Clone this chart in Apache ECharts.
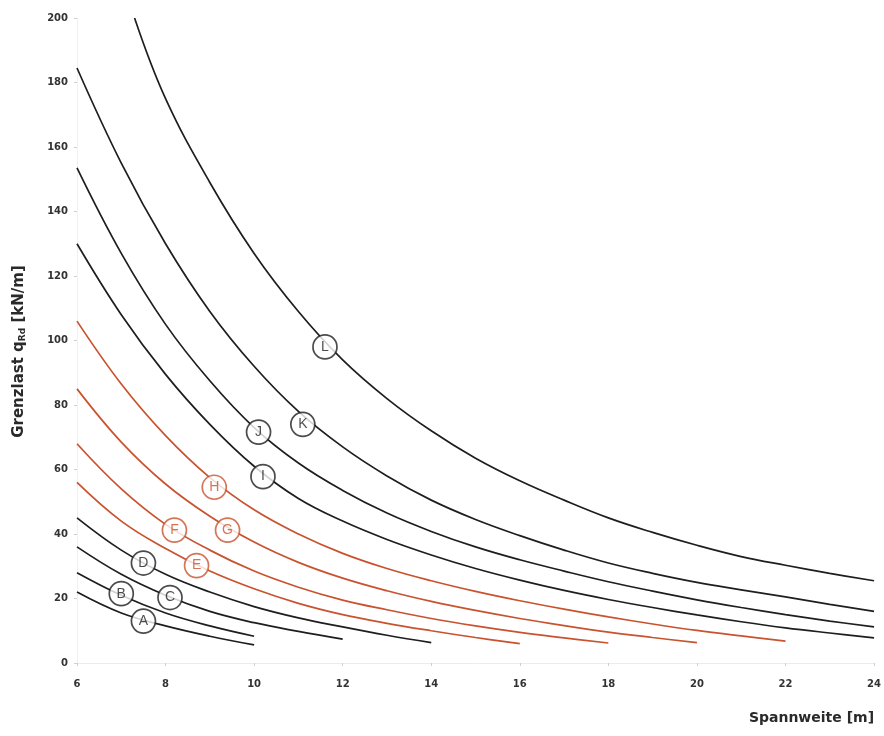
<!DOCTYPE html>
<html>
<head>
<meta charset="utf-8">
<script src="https://cdn.jsdelivr.net/npm/echarts@6/dist/echarts.min.js"></script>
<style>html,body{margin:0;padding:0;background:#fff}#c{width:884px;height:736px}</style>
</head>
<body>
<div id="c"></div>
<script>
// Spannweite [m] (x) for curves starting at 6 m
const spans = [6,7,8,9,10,11,12,13,14,15,16,17,18,19,20,21,22,23,24];
const spansL = [7.3,8,9,10,11,12,13,14,15,16,17,18,19,20,21,22,23,24];
// Grenzlast q_Rd [kN/m]
const curveA = [22,15.5,11.5,8.3,5.6];
const curveB = [28,21,15.5,11.5,8.3];
const curveC = [36,27.5,21,16,12.5,9.8,7.4];
const curveD = [45,35,27.5,22,17.5,14,11.2,8.6,6.3];
const curveE = [56,44,35.5,28.5,23,18.5,15,12.3,10,7.9,6];
const curveF = [68,54,43,35,28.5,23.5,19.5,16.5,13.8,11.5,9.5,7.8,6.2];
const curveG = [85,68.5,55.5,45.5,37.5,31.2,26.3,22.4,19.1,16.3,13.8,11.6,9.6,7.9,6.3];
const curveH = [106,86.5,70.5,57.5,47.5,40,34,29.3,25.5,22.2,19.3,16.7,14.3,12.1,10.1,8.4,6.8];
const curveI = [130,108,89.5,74,61,51,44,38.3,33.5,29.3,25.7,22.5,19.7,17.2,14.9,12.8,10.9,9.3,7.8];
const curveJ = [153.5,127,105,87.5,73,62,53.5,46.5,40.8,36,32,28.5,25.2,22.3,19.6,17.2,15,13,11.2];
const curveK = [184.5,155,130,109,92,78,67,58,50.5,44.5,39.5,35,31,27.8,25,22.7,20.5,18.2,16];
const curveL = [200,175,149,127,109,94,82,72,63.5,56.5,50.5,45,40.5,36.5,33,30.3,27.8,25.5];
// curve labels
const labelLetters = ['A','B','C','D','E','F','G','H','I','J','K','L'];
const labelX = [7.5,7.0,8.1,7.5,8.7,8.2,9.4,9.1,10.2,10.1,11.1,11.6];
const labelY = [13,21.5,20.3,31,30.2,41.2,41.2,54.5,57.8,71.6,74,98];
const yTicks = [0,20,40,60,80,100,120,140,160,180,200];

const BLACK = '#1e1e1e';
const RED = '#c9532e';
const FONT = 'DejaVu Sans, Verdana, sans-serif';
const curves = [
  {n:'A', v:curveA, x:spans, c:BLACK},
  {n:'B', v:curveB, x:spans, c:BLACK},
  {n:'C', v:curveC, x:spans, c:BLACK},
  {n:'D', v:curveD, x:spans, c:BLACK},
  {n:'E', v:curveE, x:spans, c:RED},
  {n:'F', v:curveF, x:spans, c:RED},
  {n:'G', v:curveG, x:spans, c:RED},
  {n:'H', v:curveH, x:spans, c:RED},
  {n:'I', v:curveI, x:spans, c:BLACK},
  {n:'J', v:curveJ, x:spans, c:BLACK},
  {n:'K', v:curveK, x:spans, c:BLACK},
  {n:'L', v:curveL, x:spansL, c:BLACK}
];
const redSet = ['E','F','G','H'];

const series = curves.map(cv => ({
  name: cv.n, type: 'line', smooth: 0.4, showSymbol: false, symbol: 'none',
  data: cv.v.map((y,i) => [cv.x[i], y]),
  lineStyle: {color: cv.c, width: 1.7},
  itemStyle: {color: cv.c},
  z: 2
}));
series.push({
  type: 'scatter', symbol: 'circle', symbolSize: 24, z: 5,
  data: labelLetters.map((l,i) => {
    const red = redSet.includes(l);
    return {
      value: [labelX[i], labelY[i]],
      itemStyle: {color: '#fff', borderColor: red ? RED : BLACK, borderWidth: 1.7},
      label: {show: true, position: 'inside', formatter: l, color: red ? RED : BLACK,
               fontSize: 14, fontFamily: 'Liberation Sans, Arial, sans-serif'}
    };
  })
});

const chart = echarts.init(document.getElementById('c'), null, {renderer: 'canvas'});
chart.setOption({
  animation: false,
  backgroundColor: '#fff',
  grid: {left: 77, right: 4, top: 18, bottom: 73},
  xAxis: {
    type: 'value', min: 6, max: 24, interval: 2,
    name: 'Spannweite [m]', nameLocation: 'end', nameGap: 0,
    nameTextStyle: {align: 'right', verticalAlign: 'top', padding: [48, 0, 0, 0],
      fontSize: 14, fontWeight: 'bold', color: '#2a2a2a', fontFamily: FONT},
    axisLine: {show: true, lineStyle: {color: '#ececec', width: 1}},
    axisTick: {show: true, length: 3, lineStyle: {color: '#cfcfcf'}},
    axisLabel: {margin: 16, fontSize: 10, fontWeight: 'bold', color: '#333', fontFamily: FONT},
    splitLine: {show: false}
  },
  yAxis: {
    type: 'value', min: 0, max: 200, interval: 20,
    name: 'Grenzlast q{sub|Rd} [kN/m]', nameLocation: 'middle', nameGap: 50, nameRotate: 90,
    nameTextStyle: {fontSize: 15, fontWeight: 'bold', color: '#2a2a2a', fontFamily: FONT, padding: [0, 22, 0, 0],
      rich: {sub: {fontSize: 9, fontWeight: 'bold', color: '#2a2a2a', fontFamily: FONT, verticalAlign: 'bottom', padding: [7,0,0,0]}}},
    axisLine: {show: true, lineStyle: {color: '#f0f0f0', width: 1}},
    axisTick: {show: true, length: 3, inside: false, lineStyle: {color: '#cfcfcf'}},
    axisLabel: {margin: 9, fontSize: 10, fontWeight: 'bold', color: '#333', fontFamily: FONT,
      formatter: v => yTicks.includes(v) ? String(v) : ''},
    splitLine: {show: false}
  },
  series: series
});
</script>
</body>
</html>
